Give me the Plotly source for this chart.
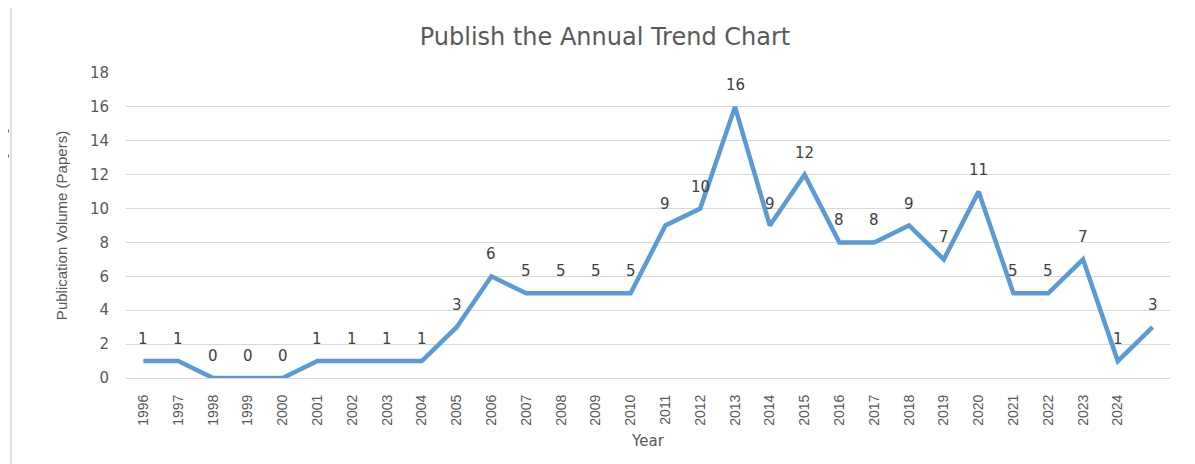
import plotly.graph_objects as go

years = list(range(1996, 2026))
tick_labels = [str(y) for y in range(1996, 2025)] + [""]
papers = [1, 1, 0, 0, 0, 1, 1, 1, 1, 3, 6, 5, 5, 5, 5, 9, 10, 16, 9, 12, 8, 8, 9, 7, 11, 5, 5, 7, 1, 3]

# page body has an 8px margin, so the figure is sized / placed to compensate
W, H = 1187, 456
L, R, T, B = 118, 25, 65, 86
pw = W - L - R
ph = H - T - B

fig = go.Figure()
fig.add_trace(go.Scatter(
    x=years, y=papers, mode="lines",
    line=dict(color="#5B9BD5", width=4.5),
    showlegend=False, hoverinfo="x+y",
))
for x, v in zip(years, papers):
    fig.add_annotation(x=x, y=v, text=str(v), showarrow=False, yanchor="bottom",
                       yshift=11, font=dict(family="DejaVu Sans", size=15, color="#404040"))

fig.update_layout(
    width=W, height=H,
    margin=dict(l=L, r=R, t=T, b=B),
    paper_bgcolor="white", plot_bgcolor="white",
    title=dict(text="Publish the Annual Trend Chart", x=597 / W, xanchor="center",
               y=1 - 29 / H, yanchor="middle",
               font=dict(family="DejaVu Sans", size=24, color="#595959")),
    xaxis=dict(
        range=[1995.5, 2025.5], tickmode="array", tickvals=years, ticktext=tick_labels,
        tickangle=-90, showgrid=False, showline=True, linecolor="#d9d9d9", linewidth=1,
        zeroline=False, ticks="", automargin=False, ticklabelstandoff=10,
        tickfont=dict(family="Liberation Sans Narrow, Arial Narrow, Liberation Sans", size=14, color="#595959"),
        title=dict(text="Year", standoff=10,
                   font=dict(family="DejaVu Sans", size=15, color="#595959")),
    ),
    yaxis=dict(
        range=[0, 18], dtick=2, showgrid=True, gridcolor="#d9d9d9", gridwidth=1,
        zeroline=False, showline=False, ticks="", ticklabelstandoff=16, automargin=False,
        tickfont=dict(family="DejaVu Sans", size=15, color="#595959"),
        title=dict(text="Publication Volume (Papers)", standoff=18,
                   font=dict(family="Liberation Sans Narrow, Arial Narrow, Liberation Sans", size=15, color="#595959")),
    ),
)

def px_x(p):
    return (p - L) / pw

def px_y(p):
    return (H - B - p) / ph

fig.add_shape(type="line", xref="paper", yref="paper", x0=px_x(3), x1=px_x(3),
              y0=px_y(H), y1=px_y(-8), line=dict(color="#e3e3e3", width=2))
for gy in (123, 148):
    fig.add_shape(type="rect", xref="paper", yref="paper", x0=px_x(-3), x1=px_x(1),
                  y0=px_y(gy + 1.5), y1=px_y(gy - 1.5), line=dict(width=0), fillcolor="#21a366")

fig.write_html("out.html")
